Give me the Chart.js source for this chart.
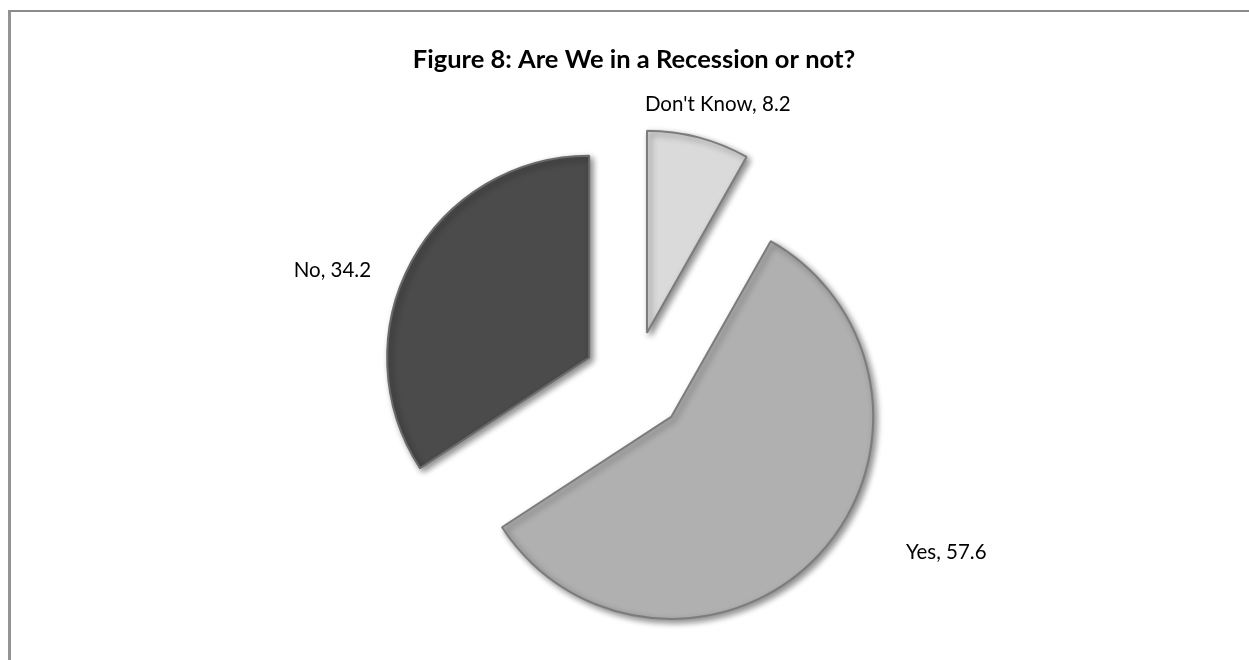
<!DOCTYPE html>
<html>
<head>
<meta charset="utf-8">
<script src="https://cdn.jsdelivr.net/npm/chart.js@4/dist/chart.umd.min.js"></script>
<style>
  html, body { margin: 0; padding: 0; background: #fff; overflow: hidden; }
  #frame { position: absolute; left: 8px; top: 10px; width: 1300px; height: 700px;
           border-left: 3px solid #939393; border-top: 2px solid #8c8c8c; }
  #wrap { position: absolute; left: 0; top: 0; width: 1249px; height: 660px; }
</style>
</head>
<body>
<div id="frame"></div>
<div id="wrap"><canvas id="pieChart" width="1249" height="660"></canvas></div>
<script>
const categories = ["Don't Know", "Yes", "No"];
const shares = [8.2, 57.6, 34.2];
const sliceColors = ['#dadada', '#b0b0b0', '#4b4b4b'];

// draw every slice pulled out from the centre, with a soft drop shadow
const explodedSlices = {
    id: 'explodedSlices',
    beforeDatasetDraw(chart, args, opts) {
        const ctx = chart.ctx;
        args.meta.data.forEach(arc => {
            const mid = (arc.startAngle + arc.endAngle) / 2;
            ctx.save();
            ctx.shadowColor = 'rgba(0,0,0,0.45)';
            ctx.shadowBlur = 6;
            ctx.shadowOffsetX = 3;
            ctx.shadowOffsetY = 3;
            ctx.translate(Math.cos(mid) * opts.distance, Math.sin(mid) * opts.distance);
            arc.draw(ctx);
            ctx.restore();
        });
        return false;
    }
};

// slice labels, placed just outside each slice
const sliceLabels = {
    id: 'sliceLabels',
    afterDatasetsDraw(chart, args, opts) {
        const ctx = chart.ctx;
        const meta = chart.getDatasetMeta(0);
        ctx.save();
        ctx.font = '20.5px Lato, "Liberation Sans", sans-serif';
        ctx.fillStyle = '#000';
        ctx.textBaseline = 'middle';
        meta.data.forEach((arc, i) => {
            const mid = (arc.startAngle + arc.endAngle) / 2;
            const r = arc.outerRadius + 64;
            const c = Math.cos(mid);
            const nudge = opts.nudge[i] || [0, 0];
            ctx.textAlign = Math.abs(c) < 0.3 ? 'center' : (c > 0 ? 'left' : 'right');
            ctx.fillText(categories[i] + ', ' + shares[i],
                arc.x + c * r + nudge[0], arc.y + Math.sin(mid) * r + nudge[1]);
        });
        ctx.restore();
    }
};

new Chart(document.getElementById('pieChart'), {
    type: 'pie',
    data: {
        labels: categories,
        datasets: [{
            data: shares,
            backgroundColor: sliceColors,
            borderColor: ['#7c7c7c', '#7c7c7c', '#6a6a6a'],
            borderWidth: 2
        }]
    },
    options: {
        responsive: false,
        animation: false,
        radius: 202,
        layout: { padding: { top: 0, bottom: 0, left: 19, right: 0 } },
        plugins: {
            legend: { display: false },
            tooltip: { enabled: false },
            title: {
                display: true,
                text: 'Figure 8: Are We in a Recession or not?',
                color: '#000',
                font: { family: 'Lato, "Liberation Sans", sans-serif', size: 25.5, weight: 'bold', lineHeight: 1.2 },
                padding: { top: 44.7, bottom: 28.7 }
            },
            explodedSlices: { distance: 51 },
            sliceLabels: { nudge: [[16, -20], [78, -12], [-29, 15]] }
        }
    },
    plugins: [explodedSlices, sliceLabels]
});
</script>
</body>
</html>
